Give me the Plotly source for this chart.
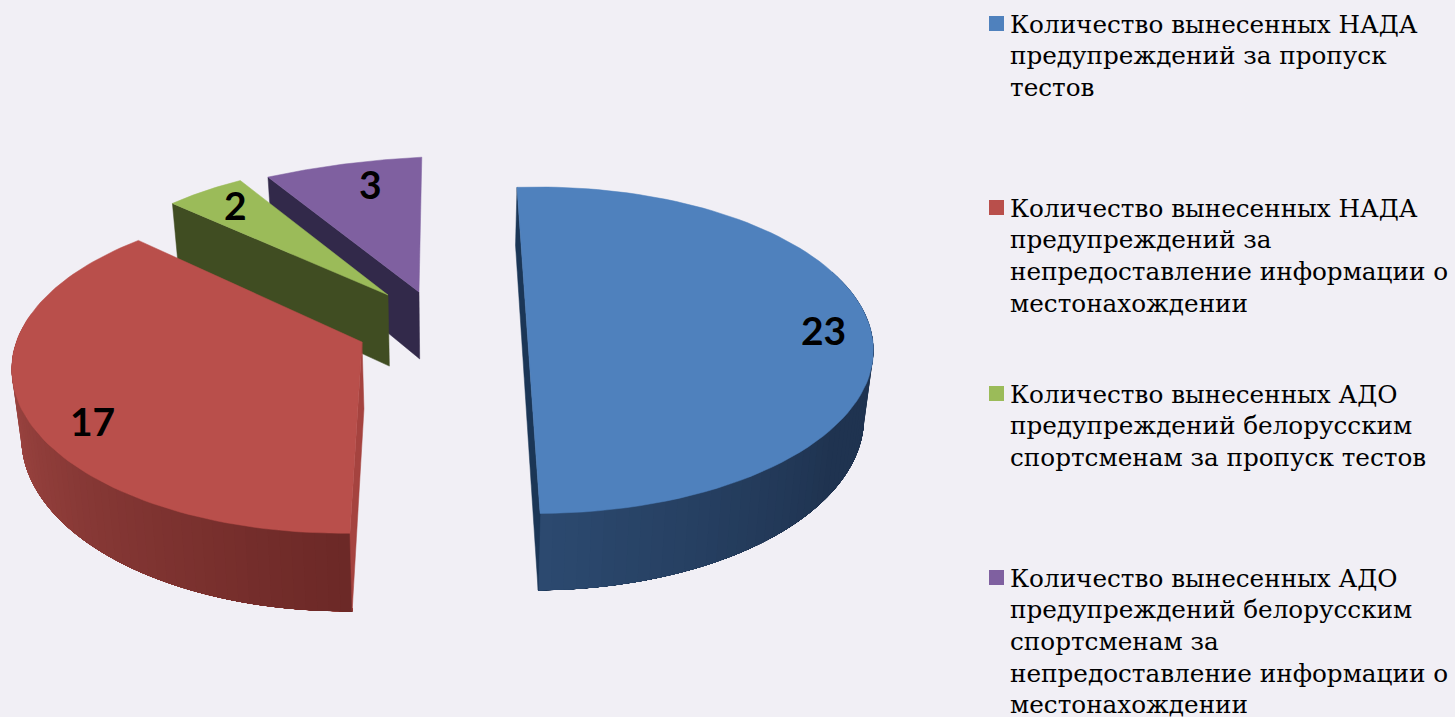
import numpy as np
import plotly.graph_objects as go

values = [23, 17, 2, 3]
value_labels = ["23", "17", "2", "3"]
legend_lines = [
    ["Количество вынесенных НАДА", "предупреждений за пропуск", "тестов"],
    ["Количество вынесенных НАДА", "предупреждений за", "непредоставление информации о", "местонахождении"],
    ["Количество вынесенных АДО", "предупреждений белорусским", "спортсменам за пропуск тестов"],
    ["Количество вынесенных АДО", "предупреждений белорусским", "спортсменам за", "непредоставление информации о", "местонахождении"],
]
top_colors = ["#4f81bd", "#b94f4b", "#9bbb59", "#7f60a0"]
cut_colors = ["#1b3656", "#a5433f", "#404d22", "#32294a"]

# drawing layout (pixel space of the hidden axes)
W, H = 1455, 717
BG = "#f1eff5"
P = 0.179
geom = [
    dict(cx=538, cy=321, a=330, b=158, rot=-4.3, apex=None, extra=0),
    dict(cx=343, cy=340, a=326, b=158.7, rot=-5.0, apex=(362, 342), extra=0),
    dict(cx=366, cy=325, a=321, b=188, rot=-3.0, apex=(388, 295), extra=7),
    dict(cx=475, cy=317, a=450, b=190, rot=-8.0, apex=(419, 292), extra=3),
]
label_pos = [(823, 330), (92, 421), (235, 205), (370, 184)]
legend_y0 = [24, 208, 394, 578]
LINE_H = 31.7


def project(g, deg):
    t = np.radians(np.asarray(deg, float) + g["rot"])
    s, c = np.sin(t), np.cos(t)
    d = 1 + P * c
    return g["cx"] + g["a"] * s / d, g["cy"] - g["b"] * c / d


def lower(x, y, extra=0):
    x = np.asarray(x, float)
    y = np.asarray(y, float)
    return x + (450 - x) * 0.022, y + 47 + 0.058 * y + extra


def mix(c1, c2, f):
    a = np.array([int(c1[i:i + 2], 16) for i in (1, 3, 5)])
    b = np.array([int(c2[i:i + 2], 16) for i in (1, 3, 5)])
    m = (a + (b - a) * f).round().astype(int)
    return f"rgb({m[0]},{m[1]},{m[2]})"


fig = go.Figure()


def poly(x, y, color, lw=0.5):
    fig.add_trace(go.Scatter(x=list(x), y=list(y), mode="lines", fill="toself",
                             fillcolor=color, line=dict(color=color, width=lw),
                             hoverinfo="skip", showlegend=False))


wall_ramp = {0: ("#1f3350", "#2c4a70"), 1: ("#6b2826", "#a94c48")}
total = sum(values)
starts = np.cumsum([0] + values[:-1]) / total * 360
sweeps = np.array(values) / total * 360

for i in [3, 2, 1, 0]:
    g = geom[i]
    ex = g["extra"]
    t0, t1 = starts[i], starts[i] + sweeps[i]
    ang = np.linspace(t0, t1, 90)
    ox, oy = project(g, ang)
    # front wall: painted in overlapping slices, so that the shade changes without seams
    if i == 0:
        edges = np.linspace(75, t1, 60)
        ends = [t1] * 60
    elif i == 1:
        edges = np.linspace(285, t0, 60)
        ends = [t0] * 60
    else:
        edges, ends = [], []
    for k in range(max(len(edges) - 1, 0)):
        seg = np.linspace(edges[k], ends[k], 40)
        sx, sy = project(g, seg)
        bx, by = lower(sx, sy, ex)
        if i == 0:
            f = np.clip((edges[k] - 130) / (t1 - 130), 0, 1)
        else:
            f = (edges[k] - t0) / (285 - t0)
        poly(np.r_[sx, bx[::-1], sx[0]], np.r_[sy, by[::-1], sy[0]], mix(*wall_ramp[i], f), lw=0)
    # cut face
    if i == 0:
        x0, y0 = project(g, [t0])
        x1, y1 = project(g, [t1])
        lx0, ly0 = lower(x0, y0, ex)
        lx1, ly1 = lower(x1, y1, ex)
        poly([x0[0], lx0[0], lx1[0], x1[0], x0[0]], [y0[0], ly0[0], ly1[0], y1[0], y0[0]], cut_colors[i])
        poly(np.r_[ox, ox[0]], np.r_[oy, oy[0]], top_colors[i])
    else:
        ax, ay = g["apex"]
        fx, fy = project(g, [t0])
        bfx, bfy = lower(fx, fy, ex)
        bax, bay = lower([ax], [ay], ex)
        poly([ax, bax[0], bfx[0], fx[0], ax], [ay, bay[0], bfy[0], fy[0], ay], cut_colors[i])
        poly(np.r_[ax, ox, ax], np.r_[ay, oy, ay], top_colors[i])

# legend squares
fig.add_trace(go.Scatter(x=[996.5] * 4, y=[v - 0.5 for v in legend_y0], mode="markers",
                         marker=dict(symbol="square", size=15, color=top_colors, line=dict(width=0)),
                         hoverinfo="skip", showlegend=False))

ann = []
for txt, (lx, ly) in zip(value_labels, label_pos):
    ann.append(dict(x=lx, y=ly, text=f"<b>{txt}</b>", showarrow=False,
                    font=dict(family="Lato", size=39, color="#000000")))
for lines, y0 in zip(legend_lines, legend_y0):
    for n, line in enumerate(lines):
        ann.append(dict(x=1008, y=y0 + n * LINE_H, text=line, showarrow=False, xanchor="left",
                        font=dict(family="DejaVu Serif", size=24.7, color="#000000")))

fig.update_layout(
    width=W, height=H, margin=dict(l=0, r=0, t=0, b=0),
    paper_bgcolor=BG, plot_bgcolor=BG, showlegend=False, annotations=ann,
    xaxis=dict(range=[0, W], visible=False, fixedrange=True),
    yaxis=dict(range=[H, 0], visible=False, fixedrange=True),
)
fig.write_html("out.html", config={"displayModeBar": False},
               post_script="document.body.style.margin='0';document.body.style.background='#f1eff5';")
